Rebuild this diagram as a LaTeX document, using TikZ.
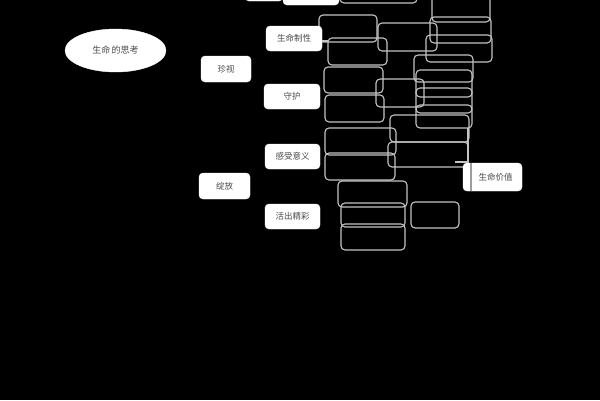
\documentclass[tikz,border=0pt]{standalone}
\usepackage{fontspec}
\newfontfamily\cjk{Noto Sans CJK SC}
\usetikzlibrary{shapes.geometric}
\definecolor{edgegray}{HTML}{C4C4C4}
\definecolor{txtgray}{HTML}{4A4A4A}
\tikzset{
  gbox/.style={draw=edgegray, line width=1.1pt, rounded corners=4pt, inner sep=0pt, outer sep=0pt},
  wbox/.style={fill=white, draw=white, rounded corners=4pt, inner sep=0pt, outer sep=0pt,
    font=\cjk\fontsize{8.5}{9}\selectfont, text=txtgray},
  conn/.style={draw=edgegray, line width=1.1pt},
}
\begin{document}
\begin{tikzpicture}[x=1pt,y=-1pt]
\fill[black] (0,0) rectangle (600,400);
\useasboundingbox (0,0) rectangle (600,400);
\clip (0,0) rectangle (600,400);
% outlined boxes
\node[gbox, minimum width=77, minimum height=23] (b1) at (378.5,-8.5) {};
\node[gbox, minimum width=58, minimum height=42] (b2) at (461,1) {};
\node[gbox, minimum width=61, minimum height=26] (b3) at (460.5,30) {};
\node[gbox, minimum width=66, minimum height=27] (b4) at (459,48.5) {};
\node[gbox, minimum width=58, minimum height=27] (b5) at (348,28.5) {};
\node[gbox, minimum width=59, minimum height=27] (b6) at (357.5,51.5) {};
\node[gbox, minimum width=59, minimum height=28] (b7) at (407.5,37) {};
\node[gbox, minimum width=59, minimum height=26] (b8) at (353.5,80) {};
\node[gbox, minimum width=59, minimum height=27] (b9) at (354.5,108.5) {};
\node[gbox, minimum width=48, minimum height=28] (b10) at (400,93) {};
\node[gbox, minimum width=59, minimum height=27] (b11) at (443.5,68.5) {};
\node[gbox, minimum width=56, minimum height=27] (b12) at (444,83.5) {};
\node[gbox, minimum width=56, minimum height=25] (b13) at (444,100.5) {};
\node[gbox, minimum width=56, minimum height=23] (b14) at (444,116.5) {};
\node[gbox, minimum width=79, minimum height=27] (b15) at (429.5,128.5) {};
\node[gbox, minimum width=80, minimum height=25] (b16) at (428,154.5) {};
\node[gbox, minimum width=71, minimum height=27] (b17) at (360.5,141.5) {};
\node[gbox, minimum width=70, minimum height=27] (b18) at (360,166.5) {};
\node[gbox, minimum width=69, minimum height=26] (b19) at (372.5,194) {};
\node[gbox, minimum width=64, minimum height=24] (b20) at (373,215) {};
\node[gbox, minimum width=64, minimum height=26] (b21) at (373,237) {};
\node[gbox, minimum width=48, minimum height=26] (b22) at (435,215) {};
% white nodes
\node[wbox, minimum width=38, minimum height=21] (w1) at (264,-9.5) {};
\node[wbox, minimum width=56, minimum height=25] (w2) at (311,-7.5) {};
\node[wbox, minimum width=56, minimum height=25] (n3) at (294,38.5) {生命制性};
\node[wbox, minimum width=50, minimum height=26] (n2) at (226,69) {珍视};
\node[wbox, minimum width=56, minimum height=25] (n4) at (292,96.5) {守护};
\node[wbox, minimum width=55, minimum height=25] (n5) at (292.5,156.5) {感受意义};
\node[wbox, minimum width=51, minimum height=26] (n6) at (224.5,186) {绽放};
\node[wbox, minimum width=55, minimum height=25] (n7) at (292.5,216.5) {活出精彩};
\node[wbox, minimum width=59, minimum height=28] (n8) at (492.5,177) {\hspace*{6pt}生命价值};
\node[ellipse, fill=white, draw=white, inner sep=0pt, minimum width=101, minimum height=43,
  font=\cjk\fontsize{9}{10}\selectfont, text=txtgray] (root) at (115.5,50.5) {生命\,的思考};
% connectors
\coordinate (k1) at (468,128);
\coordinate (k2) at (455,162);
\coordinate (k3) at (471,163);
\coordinate (k4) at (471,191);
\draw[conn] (n3.east) ++(0,2.5) coordinate (k0) -- (k0 -| b6.west);
\draw[conn] (k1) |- (k2);
\draw[conn, edgegray!80!black] (k3) -- (k4);
\end{tikzpicture}
\end{document}
